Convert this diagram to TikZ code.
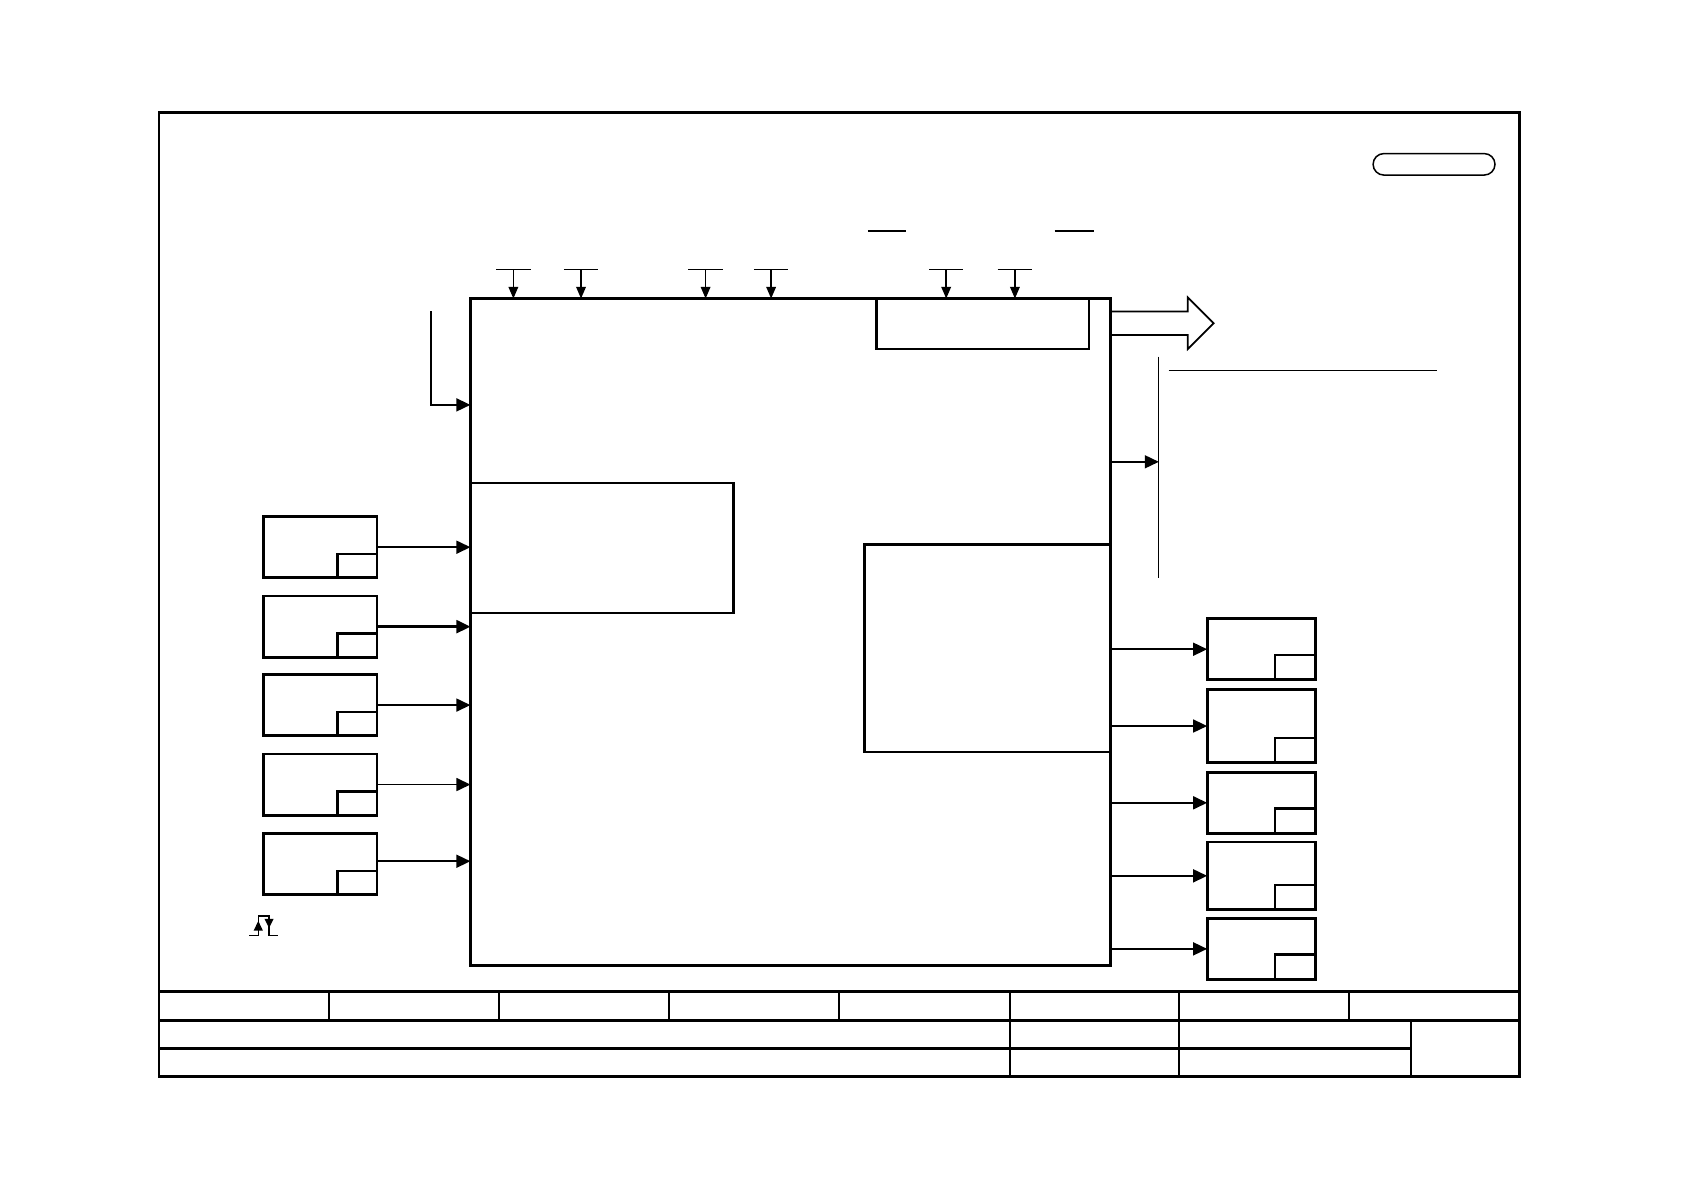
\documentclass[tikz,border=0pt]{standalone}
\usetikzlibrary{arrows.meta}
\begin{document}
\begin{tikzpicture}[x=0.5pt,y=-0.5pt,
  bigbox/.style={draw, line width=1.4pt, inner sep=0pt, outer sep=0pt, anchor=north west},
  inbox/.style={draw, line width=1.1pt, inner sep=0pt, outer sep=0pt, anchor=north west},
  lbox/.style={draw, line width=1.3pt, inner sep=0pt, outer sep=0pt, anchor=north west, minimum width=53pt, minimum height=28.5pt},
  rbox/.style={draw, line width=1.3pt, inner sep=0pt, outer sep=0pt, anchor=north west, minimum width=50.5pt},
  lsub/.style={draw, line width=1.2pt, inner sep=0pt, outer sep=0pt, anchor=south east, minimum width=18.5pt, minimum height=11pt},
  rsub/.style={draw, line width=1.2pt, inner sep=0pt, outer sep=0pt, anchor=south east, minimum width=19pt, minimum height=11.5pt},
  sig/.style={line width=0.85pt, -{Triangle[length=6.5pt,width=6pt]}},
  tbar/.style={line width=0.7pt},
  tarrow/.style={line width=0.75pt, -{Triangle[length=5.5pt,width=4.5pt]}},
  thinline/.style={line width=0.6pt},
  tbh/.style={line width=1.2pt},
  tbv/.style={line width=0.9pt}]
\useasboundingbox (0,0) rectangle (1568,1108);

% outer frame
\draw[line width=1.3pt] (148,105) rectangle (1415,1002);

% title block
\draw[tbh] (148,923) -- (1415,923);
\draw[tbh] (148,950) -- (1415,950);
\draw[tbh] (148,976) -- (1314,976);
\foreach \x in {306,465,623,781,940,1098,1256} {\draw[tbv] (\x,923) -- (\x,950);}
\foreach \x in {940,1098,1314} {\draw[tbv] (\x,950) -- (\x,1002);}

% rounded tag
\node[draw, rounded corners=5pt, line width=0.7pt, inner sep=0pt, outer sep=0pt, anchor=north west,
      minimum width=56.75pt, minimum height=10pt] (tag) at (1278.5,143) {};

% overlines
\draw[line width=1.1pt] (808,215) -- (844,215);
\draw[line width=1.1pt] (982,215) -- (1019,215);

% main block and inner blocks
\node[bigbox, minimum width=298pt, minimum height=310.5pt] (main) at (438,278) {};
\node[inbox, minimum width=99pt, minimum height=23.5pt] (topin) at (816,278) {};
\node[inbox, minimum width=122.5pt, minimum height=60.5pt] (leftin) at (438,450) {};
\node[inbox, minimum width=114.5pt, minimum height=96.5pt] (rightin) at (805,507) {};

% top T-bar inputs
\foreach \x [count=\i] in {478,541,657,718,881,945} {
  \coordinate (t\i) at (\x,251);
  \draw[tbar] ([xshift=-8pt]t\i) -- ([xshift=8pt]t\i);
  \draw[tarrow] (t\i) -- (t\i |- main.north);
}

% left entry
\coordinate (inL) at (401,290);
\draw[sig] (inL) |- (main.west |- 0,377);

% big hollow output arrow
\draw[line width=0.8pt, line join=miter] (1034,290) -- (1106,290) -- (1106,277) -- (1130,301) -- (1106,325) -- (1106,312) -- (1034,312);

% bus line
\coordinate (busT) at (1079,332);
\coordinate (busB) at (1079,538);
\draw[thinline] (busT) -- (busB);
\draw[thinline] (1088,345) -- (1338,345);
\draw[sig] (main.east |- 0,430) -- (busT |- 0,430);

% left boxes
\foreach \y [count=\i] in {481,555,628,702,776} {
  \node[lbox] (lb\i) at (245,\y) {};
  \node[lsub] (ls\i) at (lb\i.south east) {};
}
\draw[sig] (lb1.east) -- (lb1.east -| main.west);
\draw[sig, line width=1.2pt] (lb2.east) -- (lb2.east -| main.west);
\draw[sig] (lb3.east) -- (lb3.east -| main.west);
\draw[sig] (lb4.east) -- (lb4.east -| main.west);
\draw[sig] ([yshift=1.3pt]lb5.east) -- ([yshift=1.3pt]lb5.east -| main.west);

% right boxes
\node[rbox, minimum height=28.5pt] (rb1) at (1124,576) {};
\node[rbox, minimum height=34pt] (rb2) at (1124,642) {};
\node[rbox, minimum height=28.5pt] (rb3) at (1124,719) {};
\node[rbox, minimum height=31.5pt] (rb4) at (1124,784) {};
\node[rbox, minimum height=28.5pt] (rb5) at (1124,855) {};
\foreach \i in {1,...,5} {
  \node[rsub] (rs\i) at (rb\i.south east) {};
  \draw[sig] (rb\i.west -| main.east) -- (rb\i.west);
}

% pulse symbol
\draw[line width=0.6pt] (232,871) -- (240.5,871) -- (240.5,853) -- (250.5,853) -- (250.5,871) -- (259,871);
\fill (240.5,857.5) -- (236.2,866.5) -- (244.8,866.5) -- cycle;
\fill (250.5,864) -- (246.2,855.5) -- (254.8,855.5) -- cycle;
\end{tikzpicture}
\end{document}
